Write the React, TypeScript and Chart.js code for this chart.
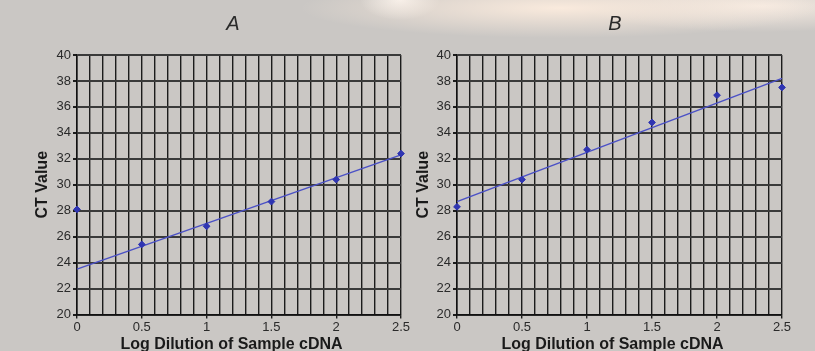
import React, { useEffect, useRef } from 'react';
import { Chart, registerables } from 'chart.js';

Chart.register(...registerables);

// ---- data ----
const xValues = [0, 0.5, 1, 1.5, 2, 2.5];
const ctA = [28.1, 25.4, 26.8, 28.7, 30.4, 32.4];
const ctB = [28.3, 30.4, 32.7, 34.8, 36.9, 37.5];
const trendX = [0, 2.5];
const trendA = [23.5, 32.3];
const trendB = [28.7, 38.2];
const xTickLabels = ['0', '0.5', '1', '1.5', '2', '2.5'];
const yTickLabels = ['20', '22', '24', '26', '28', '30', '32', '34', '36', '38', '40'];
const panelTitles = ['A', 'B'];
const xAxisTitle = 'Log Dilution of Sample cDNA';
const yAxisTitle = 'CT Value';

const FONT = '"Liberation Sans", Arial, Helvetica, sans-serif';

const textPlugin = {
  id: 'panelText',
  afterDraw(chart: any, _args: any, opts: any) {
    const { ctx, chartArea } = chart;
    const cx = (chartArea.left + chartArea.right) / 2;
    ctx.save();
    ctx.fillStyle = '#2a2a2a';
    ctx.textAlign = 'center';
    ctx.font = `italic 20px ${FONT}`;
    ctx.textBaseline = 'middle';
    ctx.fillText(opts.title, cx + opts.titleDx, opts.titleY);
    ctx.fillStyle = '#1a1a1a';
    ctx.font = `bold 16px ${FONT}`;
    ctx.textBaseline = 'alphabetic';
    ctx.fillText(opts.xTitle, cx + opts.xTitleDx, opts.xTitleY);
    ctx.restore();
  },
};

type PanelProps = {
  title: string;
  values: number[];
  trend: number[];
  left: number;
  width: number;
  padLeft: number;
  axisWidth: number;
  padRight: number;
  titleDx: number;
  xTitleDx: number;
};

function Panel(p: PanelProps) {
  const ref = useRef<HTMLCanvasElement>(null);
  useEffect(() => {
    if (!ref.current) return;
    const chart = new Chart(ref.current, {
      type: 'scatter',
      data: {
        datasets: [
          {
            label: 'trend',
            data: trendX.map((x, i) => ({ x, y: p.trend[i] })),
            showLine: true,
            borderColor: '#4b51c6',
            borderWidth: 1.5,
            pointRadius: 0,
            clip: false,
            order: 2,
          },
          {
            label: 'CT',
            data: xValues.map((x, i) => ({ x, y: p.values[i] })),
            showLine: false,
            pointStyle: 'rectRot',
            pointRadius: 3.4,
            backgroundColor: '#2f35b2',
            borderColor: '#2f35b2',
            borderWidth: 1,
            clip: false,
            order: 1,
          },
        ],
      },
      options: {
        animation: false,
        responsive: false,
        devicePixelRatio: 1,
        layout: { padding: { left: p.padLeft, right: p.padRight, top: 55, bottom: 0 } },
        plugins: {
          legend: { display: false },
          tooltip: { enabled: false },
          panelText: {
            title: p.title,
            titleDx: p.titleDx,
            titleY: 24.5,
            xTitle: xAxisTitle,
            xTitleDx: p.xTitleDx,
            xTitleY: 348.5,
          },
        } as any,
        scales: {
          x: {
            type: 'linear',
            min: 0,
            max: 2.5,
            afterFit: (s: any) => {
              s.height = 36.5;
            },
            ticks: {
              stepSize: 0.1,
              autoSkip: false,
              maxRotation: 0,
              minRotation: 0,
              padding: 1,
              color: '#2a2a2a',
              font: { size: 13, family: FONT },
              callback: (v: any) => {
                const k = Number(v) * 2;
                const r = Math.round(k);
                return Math.abs(k - r) < 1e-6 ? xTickLabels[r] : '';
              },
            },
            grid: {
              color: '#1c1c1c',
              lineWidth: 1.4,
              drawTicks: true,
              tickLength: 4,
              tickColor: (c: any) => {
                const k = Number(c.tick?.value) * 2;
                return Math.abs(k - Math.round(k)) < 1e-6 ? '#1c1c1c' : 'rgba(0,0,0,0)';
              },
            },
            border: { display: true, color: '#111', width: 1.5 },
          },
          y: {
            type: 'linear',
            min: 20,
            max: 40,
            afterFit: (s: any) => {
              s.width = p.axisWidth;
            },
            ticks: {
              stepSize: 2,
              padding: 2,
              color: '#2a2a2a',
              font: { size: 13, family: FONT },
              callback: (v: any) => yTickLabels[Math.round((Number(v) - 20) / 2)] ?? '',
            },
            grid: {
              color: '#3a3a3a',
              lineWidth: 2,
              drawTicks: true,
              tickLength: 4,
              tickColor: '#1c1c1c',
            },
            border: { display: true, color: '#111', width: 1.5 },
            title: {
              display: true,
              text: yAxisTitle,
              color: '#1a1a1a',
              font: { size: 16, weight: 'bold', family: FONT },
              padding: { top: 0, bottom: 0 },
            },
          },
        },
      },
      plugins: [textPlugin as any],
    });
    return () => chart.destroy();
  }, []);
  return (
    <canvas
      ref={ref}
      width={p.width}
      height={351}
      style={{ position: 'absolute', left: p.left, top: 0, width: p.width, height: 351, display: 'block' }}
    />
  );
}

export default function App() {
  return (
    <div
      style={{
        position: 'fixed',
        left: 0,
        top: 0,
        width: 815,
        height: 351,
        overflow: 'hidden',
        background:
          'radial-gradient(ellipse 260px 30px at 560px 8px, rgba(252,236,222,0.95), rgba(252,236,222,0) 100%),' +
          'radial-gradient(ellipse 180px 26px at 760px 6px, rgba(250,238,228,0.9), rgba(250,238,228,0) 100%),' +
          'radial-gradient(ellipse 40px 20px at 400px 0px, rgba(250,246,242,0.9), rgba(250,246,242,0) 100%),' +
          '#cac7c4',
      }}
    >
      <Panel
        title={panelTitles[0]}
        values={ctA}
        trend={trendA}
        left={0}
        width={420}
        padLeft={33}
        axisWidth={44}
        padRight={19}
        titleDx={-6}
        xTitleDx={-7.5}
      />
      <Panel
        title={panelTitles[1]}
        values={ctB}
        trend={trendB}
        left={405}
        width={410}
        padLeft={9}
        axisWidth={43}
        padRight={33}
        titleDx={-4.5}
        xTitleDx={-7}
      />
    </div>
  );
}
